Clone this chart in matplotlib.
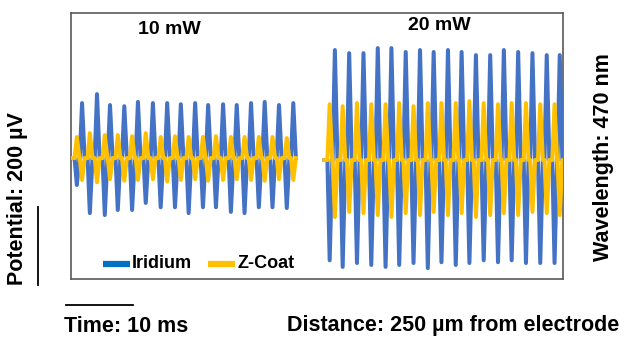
import matplotlib
matplotlib.use("Agg")
import matplotlib.pyplot as plt
from matplotlib.lines import Line2D

BLUE = "#4472C4"
BLUE_KEY = "#0070C0"
GOLD = "#FFC000"
FRAME = "#595959"
FONT = "Liberation Sans"

# ---- data: potential (uV) vs time (ms) ----
# 10 mW segment
left_span = (0.3, 34.6)
left_peak_t = [1.7, 4.0, 6.0, 8.2, 10.3, 12.6, 14.8, 16.9, 19.1, 21.1, 23.4, 25.5, 27.7, 29.8, 32.0, 34.2]
left_trough_t = [0.9, 2.9, 5.2, 7.2, 9.4, 11.5, 13.8, 16.0, 18.1, 20.3, 22.3, 24.6, 26.7, 28.9, 31.0, 33.2]
left_ir_hi = [141, 164, 136, 133, 144, 141, 141, 138, 141, 136, 138, 136, 141, 144, 136, 141]
left_ir_lo = [-69, -141, -146, -133, -133, -115, -126, -126, -141, -126, -126, -138, -141, -126, -126, -128]
left_zc_lo = [-56, -62, -54, -58, -56, -54, -60, -56, -54, -58, -56, -54, -56, -58, -54, -56]
left_zc_hi = [54, 64, 59, 59, 56, 64, 54, 56, 54, 54, 56, 54, 54, 54, 54, 51]
left_base = 0

# 20 mW segment
right_span = (39.0, 76.8)
right_peak_t = [40.6, 42.8, 45.0, 47.2, 49.3, 51.5, 53.7, 55.8, 58.0, 60.1, 62.3, 64.5, 66.6, 68.8, 71.0, 73.2, 75.2]
right_trough_t = [39.8, 41.8, 44.0, 46.2, 48.4, 50.5, 52.7, 54.9, 57.0, 59.2, 61.3, 63.5, 65.7, 67.8, 70.0, 72.2, 74.4, 76.4]
right_ir_hi = [277, 269, 269, 282, 282, 272, 277, 272, 277, 272, 264, 264, 277, 272, 269, 264, 264]
right_ir_lo = [-262, -279, -269, -274, -279, -274, -269, -282, -267, -274, -269, -262, -267, -262, -269, -269, -269, -269]
right_zc_lo = [-151, -138, -141, -146, -151, -141, -146, -138, -146, -141, -151, -146, -141, -146, -138, -141, -146]
right_zc_hi = [138, 133, 141, 138, 138, 141, 133, 141, 141, 141, 146, 141, 138, 141, 141, 138, 138, 138]
right_base = -5

series_names = ["Iridium", "Z-Coat"]


def trace(span, base, times, values, pre=0.35, post=0.4):
    """Each extreme is a narrow spike that leaves and rejoins the baseline."""
    ev = sorted(zip(times, values))
    xs, ys = [span[0]], [base]
    for t, v in ev:
        xs += [t - pre, t, t + post]
        ys += [base, v, base]
    xs.append(span[1])
    ys.append(base)
    return xs, ys


W, H = 625, 337
fig = plt.figure(figsize=(W / 100, H / 100), dpi=100)
ax = fig.add_axes([71 / W, 1 - 279 / H, (563 - 71) / W, (279 - 13) / H])
ax.set_xlim(0, 75.7)
ax.set_ylim(-310, 372)
ax.set_xticks([])
ax.set_yticks([])
for s in ax.spines.values():
    s.set_color(FRAME)
    s.set_linewidth(1.2)

for span, base, pt, tt, ihi, ilo, zlo, zhi in (
        (left_span, left_base, left_peak_t, left_trough_t, left_ir_hi, left_ir_lo, left_zc_lo, left_zc_hi),
        (right_span, right_base, right_peak_t, right_trough_t, right_ir_hi, right_ir_lo, right_zc_lo, right_zc_hi)):
    x, y = trace(span, base, pt + tt, ihi + ilo)
    ax.plot(x, y, color=BLUE, lw=2.9, solid_joinstyle="round", zorder=3)
    x, y = trace(span, base, pt + tt, zlo + zhi)
    ax.plot(x, y, color=GOLD, lw=2.9, solid_joinstyle="round", zorder=4)

# segment titles
txt = dict(fontfamily=FONT, fontweight="bold", color="black")
fig.text(169 / W, 1 - 30 / H, "10 mW", fontsize=14, ha="center", va="center", **txt)
fig.text(439 / W, 1 - 25 / H, "20 mW", fontsize=14, ha="center", va="center", **txt)

# legend, drawn by hand like the spreadsheet key
for (x0, x1), name, col in (((103, 130), series_names[0], BLUE_KEY),
                            ((208, 235), series_names[1], GOLD)):
    fig.add_artist(Line2D([x0 / W, x1 / W], [1 - 264 / H] * 2, color=col, lw=4.5,
                          solid_capstyle="butt", transform=fig.transFigure))
    fig.text((x1 + 2) / W, 1 - 264 / H, name, fontsize=13, ha="left", va="center", **txt)

# scale bars
fig.add_artist(Line2D([38 / W, 38 / W], [1 - 207 / H, 1 - 285 / H], color="black",
                      lw=1.3, transform=fig.transFigure))
fig.add_artist(Line2D([66 / W, 133 / W], [1 - 305 / H] * 2, color="black",
                      lw=1.3, transform=fig.transFigure))

fig.text(18 / W, 1 - 199 / H, "Potential: 200 µV", fontsize=15.5, rotation=90,
         ha="center", va="center", **txt)
fig.text(603 / W, 1 - 157 / H, "Wavelength: 470 nm", fontsize=15.5, rotation=90,
         ha="center", va="center", **txt)
fig.text(126 / W, 1 - 326 / H, "Time: 10 ms", fontsize=15.5, ha="center", va="center", **txt)
fig.text(287 / W, 1 - 326 / H, "Distance: 250 µm from electrode", fontsize=15.5,
         ha="left", va="center", **txt)

fig.savefig("out.png", dpi=100, facecolor="white")
